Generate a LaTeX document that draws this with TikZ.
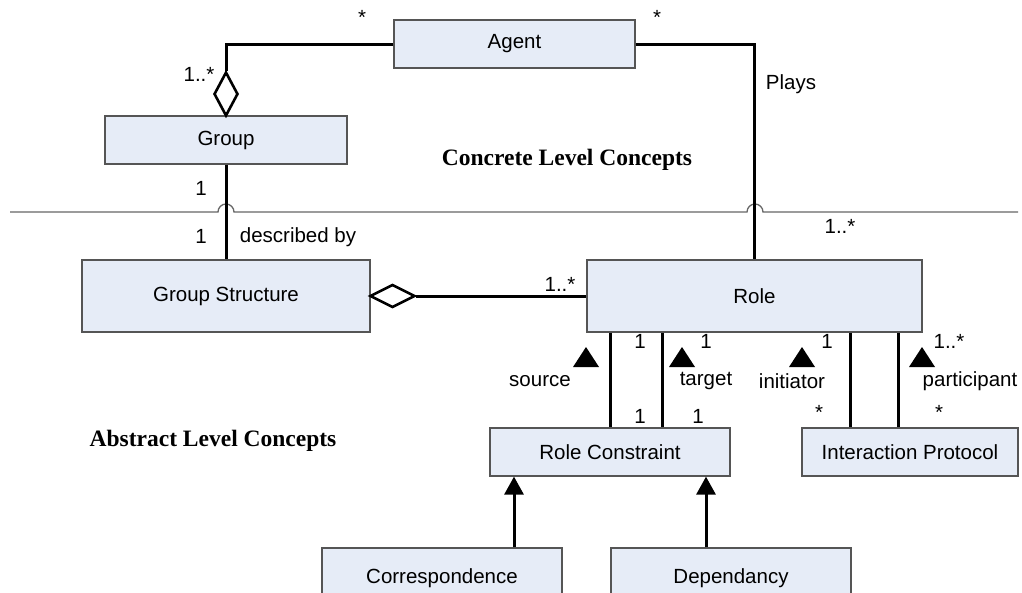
\documentclass[tikz,border=0pt]{standalone}
\usepackage{fontspec}
\setmainfont{Liberation Sans}
\newfontfamily\titlefont{Liberation Serif}
\usetikzlibrary{shapes.geometric,arrows.meta,calc}
\definecolor{boxfill}{HTML}{E6ECF7}
\definecolor{boxline}{HTML}{555555}
\definecolor{sepline}{HTML}{666666}
\begin{document}
\begin{tikzpicture}[x=1pt,y=-1pt,
  cls/.style={draw=boxline,line width=1.2pt,fill=boxfill,inner sep=0pt,
    font=\fontsize{20.5}{24}\selectfont},
  assoc/.style={line width=3pt,draw=black},
  agg/.style={shape=diamond,draw=black,line width=2.6pt,fill=white,inner sep=0pt},
  lbl/.style={inner sep=0pt,font=\fontsize{20.5}{24}\selectfont},
  level/.style={inner sep=0pt,font=\titlefont\bfseries\fontsize{23.5}{28}\selectfont},
  gen/.style={line width=3pt,-{Triangle[length=18pt,width=19pt]}},
  dirmark/.style={fill=black}]
\useasboundingbox (0,0) rectangle (1022,592);

% level separator, with hops where the associations cross it
\draw[sepline,line width=1.3pt]
  (10,212) -- (218,212) arc[start angle=180,end angle=360,radius=8]
  -- (747,212) arc[start angle=180,end angle=360,radius=8] -- (1018,212);

% classes
\node[cls,minimum width=241,minimum height=48] (agent) at (514.5,44) {Agent};
\node[cls,minimum width=242,minimum height=48] (group) at (226,140) {Group};
\node[cls,minimum width=288,minimum height=72] (gs) at (226,296) {Group Structure};
\node[cls,minimum width=335,minimum height=72] (role) at (754.5,296) {Role};
\node[cls,minimum width=240,minimum height=48] (rc) at (610,452) {Role Constraint};
\node[cls,minimum width=216,minimum height=48] (ip) at (910,452) {Interaction Protocol};
\node[cls,minimum width=240,minimum height=60] (corr) at (442,578) {Correspondence};
\node[cls,minimum width=240,minimum height=60] (dep) at (731,578) {Dependancy};

% aggregation diamonds
\node[agg,minimum width=24,minimum height=44] (gdia) at (226,94) {};
\node[agg,minimum width=45,minimum height=23] (gsdia) at (392.5,296) {};

% associations
\draw[assoc] (agent.west) -| (gdia.north);
\draw[assoc] (agent.east) -| (role.north);
\draw[assoc] (group.south) -- (gs.north);
\draw[assoc] (gsdia.east) -- (role.west);

\coordinate (xsrc) at (610,0);
\coordinate (xtgt) at (662,0);
\coordinate (xini) at (850,0);
\coordinate (xpar) at (898,0);
\draw[assoc] (xsrc |- role.south) -- (xsrc |- rc.north);
\draw[assoc] (xtgt |- role.south) -- (xtgt |- rc.north);
\draw[assoc] (xini |- role.south) -- (xini |- ip.north);
\draw[assoc] (xpar |- role.south) -- (xpar |- ip.north);

% generalisations
\coordinate (xcorr) at (514,0);
\coordinate (xdep) at (706,0);
\draw[gen] (xcorr |- corr.north) -- (xcorr |- rc.south);
\draw[gen] (xdep |- dep.north) -- (xdep |- rc.south);

% reading-direction markers
\fill[dirmark] (573,367) -- (599,367) -- (586,347) -- cycle;
\fill[dirmark] (669,367) -- (695,367) -- (682,347) -- cycle;
\fill[dirmark] (789,367) -- (815,367) -- (802,347) -- cycle;
\fill[dirmark] (909,367) -- (935,367) -- (922,347) -- cycle;

% multiplicities and role names
\node[lbl] (m1) at (362,17) {*};
\node[lbl] (m2) at (657,17) {*};
\node[lbl] (m3) at (199,74) {1..*};
\node[lbl] (plays) at (791,84) {Plays};
\node[lbl] (m4) at (201,188) {1};
\node[lbl] (m5) at (201,236) {1};
\node[lbl] (descr) at (298,237) {described by};
\node[lbl] (m6) at (840,226) {1..*};
\node[lbl] (m7) at (560,284) {1..*};
\node[lbl] (m8) at (640,341) {1};
\node[lbl] (m9) at (706,341) {1};
\node[lbl] (m10) at (827,341) {1};
\node[lbl] (m11) at (949,341) {1..*};
\node[lbl] (src) at (540,381) {source};
\node[lbl] (tgt) at (706,381) {target};
\node[lbl] (ini) at (792,381) {initiator};
\node[lbl] (par) at (970,381) {participant};
\node[lbl] (m12) at (640,416) {1};
\node[lbl] (m13) at (698,416) {1};
\node[lbl] (m14) at (819,412) {*};
\node[lbl] (m15) at (939,412) {*};

% level captions
\node[level] (concrete) at (567,160) {Concrete Level Concepts};
\node[level] (abstract) at (213,441) {Abstract Level Concepts};
\end{tikzpicture}
\end{document}
